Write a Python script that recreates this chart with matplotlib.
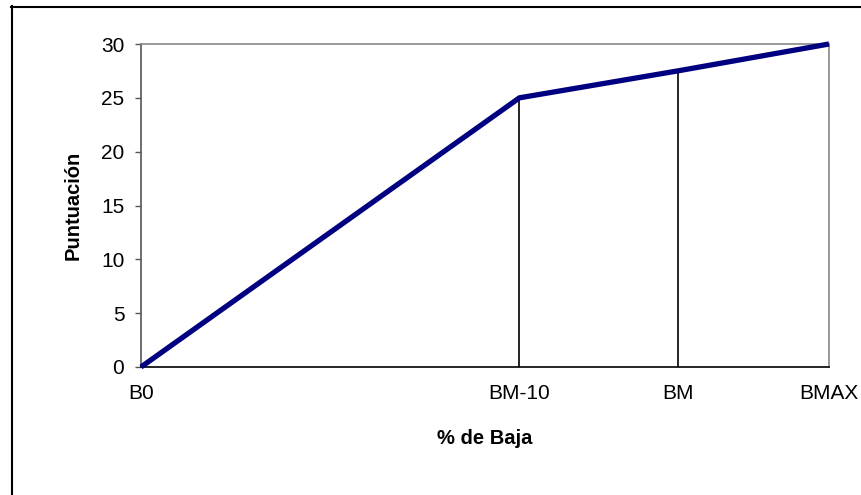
import matplotlib
matplotlib.use("Agg")
import matplotlib.pyplot as plt
from matplotlib.lines import Line2D

plt.rcParams['font.family'] = ['Liberation Sans', 'DejaVu Sans']

# Data
x_labels = ["B0", "BM-10", "BM", "BMAX"]
x_values = [0, 55, 78, 100]
scores = [0, 25, 27.5, 30]
y_ticks = [0, 5, 10, 15, 20, 25, 30]

fig = plt.figure(figsize=(8.61, 4.95), dpi=100)
ax = fig.add_axes([141/861, 1-367/495, (829-141)/861, (367-44)/495])

# vertical guide lines at BM-10 and BM
for xv, yv in zip(x_values[1:3], scores[1:3]):
    ax.plot([xv, xv], [0, yv], color="black", lw=1.2, zorder=2)

ax.plot(x_values, scores, color="#000080", lw=3.8, zorder=3,
        solid_joinstyle="miter", solid_capstyle="butt", clip_on=False)

ax.set_xlim(0, 100)
ax.set_ylim(0, 30)
ax.set_xticks(x_values)
ax.set_xticklabels(x_labels)
ax.set_yticks(y_ticks)
ax.tick_params(axis="x", length=0, pad=12, labelsize=15)
ax.tick_params(axis="y", length=4, width=1, color="#555555", pad=8, labelsize=15, direction="out")

ax.spines["left"].set_color("#555555")
ax.spines["bottom"].set_color("black")
ax.spines["top"].set_color("#888888")
ax.spines["right"].set_color("#888888")
for s in ax.spines.values():
    s.set_linewidth(1.2)

ax.set_xlabel("% de Baja", fontsize=14.5, fontweight="bold", labelpad=19)
ax.set_ylabel("Puntuación", fontsize=14.5, fontweight="bold", labelpad=13)

# outer frame (left and top visible)
fig.add_artist(Line2D([11.5/861, 11.5/861], [0, 1-6/495], transform=fig.transFigure, color="black", lw=1.5))
fig.add_artist(Line2D([11/861, 1], [1-6.5/495, 1-6.5/495], transform=fig.transFigure, color="black", lw=1.5))

fig.savefig("out.png", dpi=100)
